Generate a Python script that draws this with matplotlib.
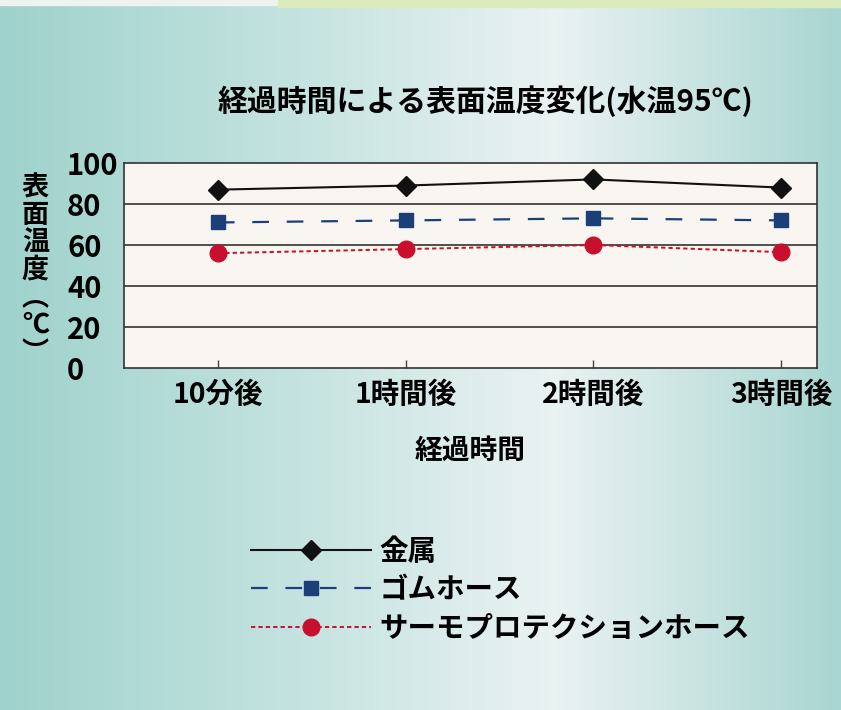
import numpy as np
import matplotlib
matplotlib.use("Agg")
import matplotlib.pyplot as plt
from matplotlib.colors import LinearSegmentedColormap

plt.rcParams['font.family'] = ['Noto Sans CJK JP', 'DejaVu Sans']
plt.rcParams['font.weight'] = 'bold'

categories = ['10分後', '1時間後', '2時間後', '3時間後']
metal = [87, 89, 92, 88]
rubber = [71, 72, 73, 72]
thermo = [56, 58, 60, 56.5]
series_names = ['金属', 'ゴムホース', 'サーモプロテクションホース']
yticks = [0, 20, 40, 60, 80, 100]

fig = plt.figure(figsize=(8.41, 7.1), dpi=100)

# background gradient
bg = fig.add_axes([0, 0, 1, 1], zorder=-10)
bg_cmap = LinearSegmentedColormap.from_list(
    'bg', [(0.0, '#9fd2cc'), (0.35, '#c4e3e0'), (0.66, '#eaf2f2'), (1.0, '#a9d6d2')])
bg.imshow(np.linspace(0, 1, 256)[None, :], aspect='auto', cmap=bg_cmap,
          extent=[0, 1, 0, 1])
bg.axhspan(0.993, 1.0, xmin=0, xmax=0.33, color='#eef3ef')
bg.axhspan(0.99, 1.0, xmin=0.33, xmax=1.0, color='#dcebbd')
bg.set_xlim(0, 1)
bg.set_ylim(0, 1)
bg.axis('off')

ax = fig.add_axes([0.1474, 0.4817, 0.824, 0.2887])
ax.set_facecolor('#f9f5f1')
x = np.arange(len(categories))

ax.plot(x, metal, color='#111111', lw=1.5, marker='D', markersize=10,
        label=series_names[0], zorder=4)
ax.plot(x, rubber, color='#1d3f78', lw=1.6, dashes=(7.5, 8.0), marker='s',
        markersize=9.5, label=series_names[1], zorder=4)
ax.plot(x, thermo, color='#c8102e', lw=1.4, dashes=(2.2, 1.6), marker='o',
        markersize=12, label=series_names[2], zorder=4)

ax.set_xlim(-0.5, 3.19)
ax.set_ylim(0, 100)
ax.set_yticks(yticks)
ax.set_yticklabels([str(v) for v in yticks], ha='left', fontsize=21)
ax.tick_params(axis='y', length=0, pad=41)
ax.set_xticks(x)
ax.set_xticklabels(categories, fontsize=20.5)
ax.tick_params(axis='x', direction='in', length=6, width=1, color='#444444', pad=9)
for v in yticks[1:-1]:
    ax.axhline(v, color='#333333', lw=1.2, zorder=1)
for s in ax.spines.values():
    s.set_color('#333333')
    s.set_linewidth(1.2)

ax.set_xlabel('経過時間', fontsize=20, labelpad=20, fontweight='bold')
fig.text(0.577, 0.858, '経過時間による表面温度変化(水温95℃)', fontsize=21.5,
         ha='center', va='center', fontweight='bold')
fig.text(0.042, 0.62, '\n'.join(['表', '面', '温', '度', '︵', '℃', '︶']),
         fontsize=19.5, ha='center', va='center', linespacing=0.98, fontweight='bold')

ax.legend(loc='upper left', bbox_to_anchor=(0.285, 0.258), bbox_transform=fig.transFigure,
          frameon=False, fontsize=20.5, handlelength=4.2, handletextpad=0.3,
          numpoints=1, labelspacing=0.36, borderaxespad=0)

fig.savefig('out.png', dpi=100)
